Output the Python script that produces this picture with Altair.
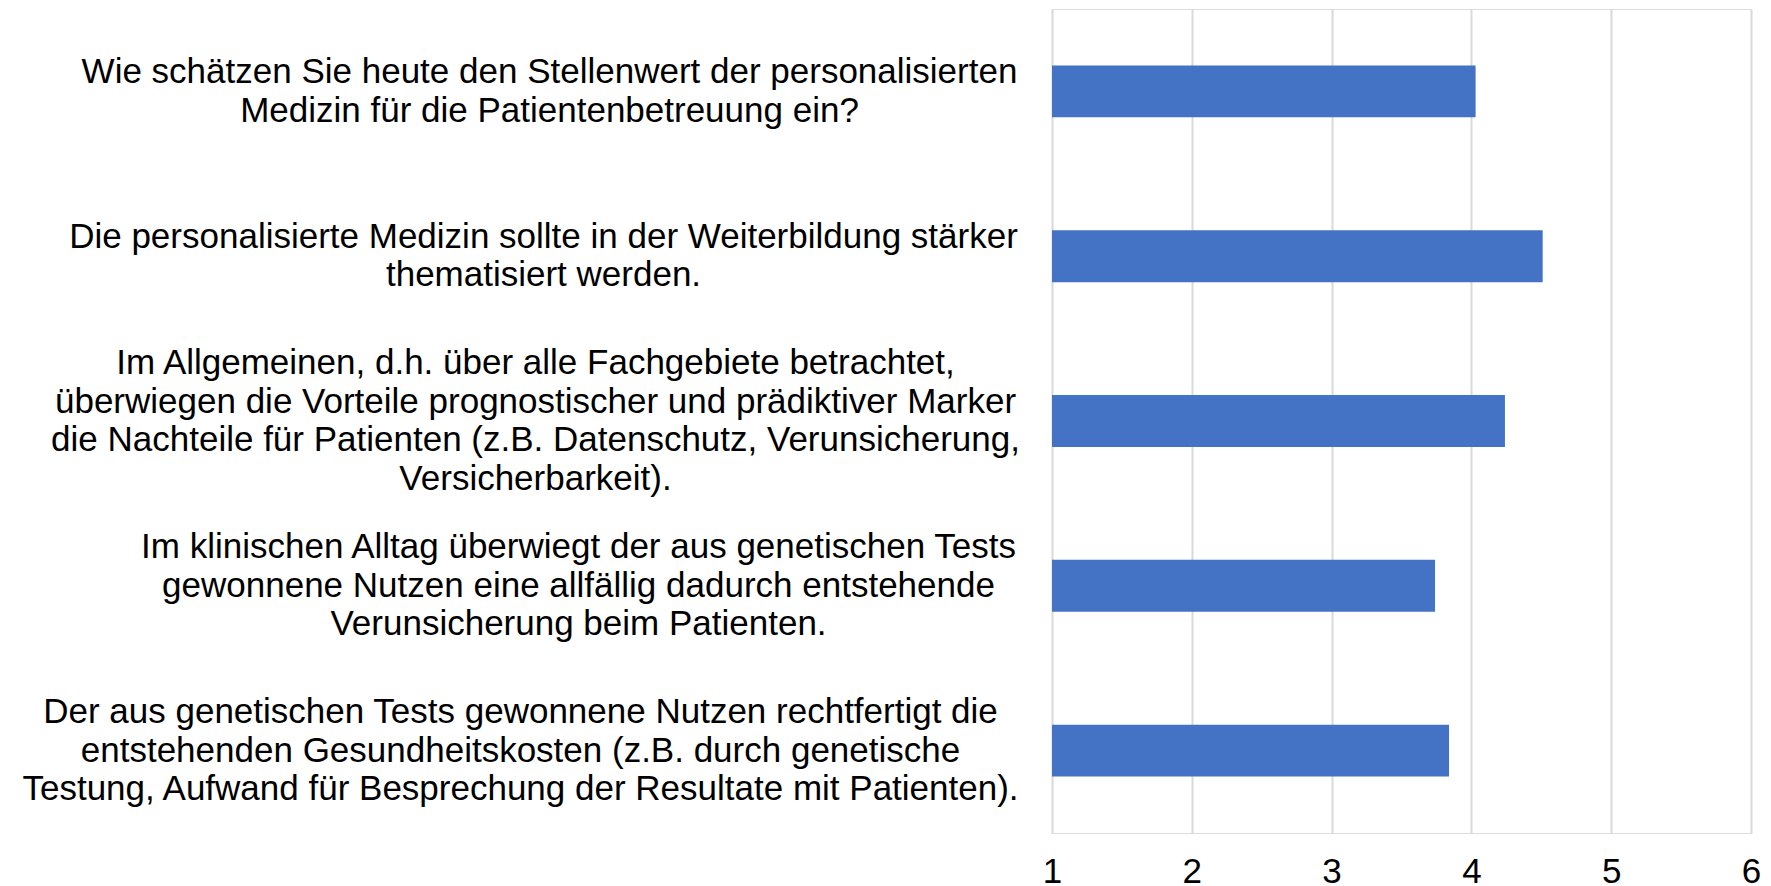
import json
import altair as alt
import pandas as pd

# ---- data ----
categories = [
    "Wie schätzen Sie heute den Stellenwert der personalisierten\nMedizin für die Patientenbetreuung ein?",
    "Die personalisierte Medizin sollte in der Weiterbildung stärker\nthematisiert werden.",
    "Im Allgemeinen, d.h. über alle Fachgebiete betrachtet,\nüberwiegen die Vorteile prognostischer und prädiktiver Marker\ndie Nachteile für Patienten (z.B. Datenschutz, Verunsicherung,\nVersicherbarkeit).",
    "Im klinischen Alltag überwiegt der aus genetischen Tests\ngewonnene Nutzen eine allfällig dadurch entstehende\nVerunsicherung beim Patienten.",
    "Der aus genetischen Tests gewonnene Nutzen rechtfertigt die\nentstehenden Gesundheitskosten (z.B. durch genetische\nTestung, Aufwand für Besprechung der Resultate mit Patienten).",
]
values = [4.03, 4.51, 4.24, 3.74, 3.84]
x_ticks = [1, 2, 3, 4, 5, 6]

# ---- styling ----
FONT = "Liberation Sans"
BAR_COLOR = "#4472C4"
GRID_COLOR = "#D9D9D9"
LINE_H = 38.5
# horizontal distance of each label block centre from the plot edge
label_pad = [503, 509, 517, 474, 532]

df = pd.DataFrame({"question": categories, "value": values})

pad_cond = {
    "condition": [
        {"test": "datum.value === " + json.dumps(c), "value": p}
        for c, p in zip(categories, label_pad)
    ],
    "value": 500,
}

# centre multi-line label blocks vertically on their band
offset_cond = {
    "condition": [
        {"test": f"length(split(datum.value, '\\n')) === {n}",
         "value": -(n - 1) * LINE_H / 2}
        for n in (2, 3, 4)
    ],
    "value": 0,
}

chart = (
    alt.Chart(df)
    .mark_bar(color=BAR_COLOR)
    .encode(
        y=alt.Y(
            "question:N",
            sort=None,
            title=None,
            scale=alt.Scale(paddingInner=0.685, paddingOuter=0.3425),
            axis=alt.Axis(
                labelExpr="split(datum.label, '\\n')",
                labelAlign="center",
                labelBaseline="middle",
                labelPadding=pad_cond,
                labelOffset=offset_cond,
                labelFont=FONT,
                labelFontSize=35,
                labelLineHeight=LINE_H,
                labelColor="#000000",
                labelLimit=0,
                labelBound=False,
                ticks=False,
                domain=False,
                grid=False,
            ),
        ),
        x=alt.X(
            "value:Q",
            title=None,
            scale=alt.Scale(domain=[1, 6], zero=False, nice=False),
            axis=alt.Axis(
                values=x_ticks,
                format="d",
                labelFont=FONT,
                labelFontSize=35,
                labelColor="#000000",
                labelPadding=21,
                labelBaseline="top",
                labelFlush=False,
                labelAlign="center",
                ticks=False,
                domain=False,
                grid=True,
                gridColor=GRID_COLOR,
                gridWidth=2,
            ),
        ),
        x2=alt.datum(1),
    )
    .properties(
        width=699,
        height=824,
        autosize=alt.AutoSizeParams(type="none"),
        padding={"left": 1044, "top": 1, "right": 12, "bottom": 56},
    )
    .configure_view(stroke=None)
    .configure(background="white")
)

chart.save("out.html", embed_options={"renderer": "svg", "actions": False})
